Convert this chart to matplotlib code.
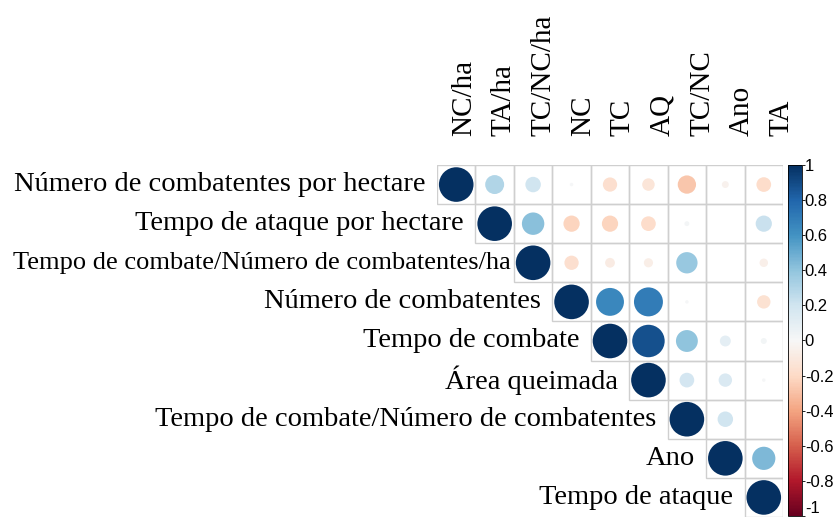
import numpy as np
import matplotlib
matplotlib.use("Agg")
import matplotlib.pyplot as plt
from matplotlib.patches import Rectangle
from matplotlib.colors import Normalize
from matplotlib.cm import ScalarMappable

# -----------------------------
# Data (upper triangle of the correlation matrix, row by row)
# -----------------------------
COL_LABELS = ["NC/ha", "TA/ha", "TC/NC/ha", "NC", "TC", "AQ", "TC/NC", "Ano", "TA"]
ROW_LABELS = [
    "Número de combatentes por hectare",
    "Tempo de ataque por hectare",
    "Tempo de combate/Número de combatentes/ha",
    "Número de combatentes",
    "Tempo de combate",
    "Área queimada",
    "Tempo de combate/Número de combatentes",
    "Ano",
    "Tempo de ataque",
]
ROW_NCHA = [1.0, 0.30, 0.20, 0.01, -0.17, -0.13, -0.28, -0.04, -0.18]
ROW_TAHA = [1.0, 0.42, -0.22, -0.22, -0.18, 0.02, 0.0, 0.22]
ROW_TCNCHA = [1.0, -0.17, -0.08, -0.07, 0.38, 0.0, -0.06]
ROW_NC = [1.0, 0.65, 0.70, 0.01, 0.0, -0.15]
ROW_TC = [1.0, 0.88, 0.40, 0.10, 0.03]
ROW_AQ = [1.0, 0.18, 0.15, 0.01]
ROW_TCNC = [1.0, 0.20, 0.0]
ROW_ANO = [1.0, 0.45]
ROW_TA = [1.0]
ROWS = [ROW_NCHA, ROW_TAHA, ROW_TCNCHA, ROW_NC, ROW_TC, ROW_AQ, ROW_TCNC, ROW_ANO, ROW_TA]

CBAR_TICKS = [1, 0.8, 0.6, 0.4, 0.2, 0, -0.2, -0.4, -0.6, -0.8, -1]

SERIF = "Liberation Serif"
SANS = "Liberation Sans"

n = len(COL_LABELS)
W, H, DPI = 835, 524, 100

fig = plt.figure(figsize=(W / DPI, H / DPI), dpi=DPI)
# grid spans x 437..783 px, y 165..517 px (from top)
ax = fig.add_axes([437 / W, 1 - 517 / H, (783 - 437) / W, (517 - 165) / H])
ax.set_xlim(0, n)
ax.set_ylim(n, 0)
ax.axis("off")

cell_px = (783 - 437) / n
cmap = plt.get_cmap("RdBu")
norm = Normalize(-1, 1)

xs, ys, vals = [], [], []
for i, row in enumerate(ROWS):
    for k, v in enumerate(row):
        j = i + k
        xs.append(j + 0.5)
        ys.append(i + 0.5)
        vals.append(v)
        ax.add_patch(Rectangle((j, i), 1, 1, fill=False, edgecolor="#cfcfcf", lw=1.0, zorder=1))

vals = np.array(vals)
diam_px = 0.9 * cell_px * np.sqrt(np.abs(vals))
sizes = (diam_px * 72 / DPI) ** 2
ax.scatter(xs, ys, s=sizes, c=vals, cmap=cmap, norm=norm, linewidths=0, zorder=2)

# row labels, right-aligned just left of the diagonal cell
for i, lab in enumerate(ROW_LABELS):
    if lab.endswith("/ha"):
        fs, gap = 19, 0.08
    else:
        fs, gap = 20.5, 0.3
    ax.text(i - gap, i + 0.5, lab, ha="right", va="center", fontsize=fs,
            family=SERIF, clip_on=False)

# column labels on top (rotated)
for j, lab in enumerate(COL_LABELS):
    ax.text(0.70 + j * 1.034, -0.74, lab, rotation=90, ha="center", va="bottom",
            fontsize=21, family=SERIF, clip_on=False)

# colour bar
cax = fig.add_axes([788 / W, 1 - 516 / H, 14 / W, (516 - 165) / H])
cb = fig.colorbar(ScalarMappable(norm=norm, cmap=cmap), cax=cax)
cb.outline.set_linewidth(0.6)
cb.set_ticks(CBAR_TICKS)
cb.set_ticklabels([f"{t:g}" for t in CBAR_TICKS])
cax.tick_params(length=2, width=0.6, pad=0, labelsize=12)
for t in cax.get_yticklabels():
    t.set_family(SANS)
cax.get_yticklabels()[-1].set_va("bottom")

fig.savefig("out.png", dpi=DPI)
